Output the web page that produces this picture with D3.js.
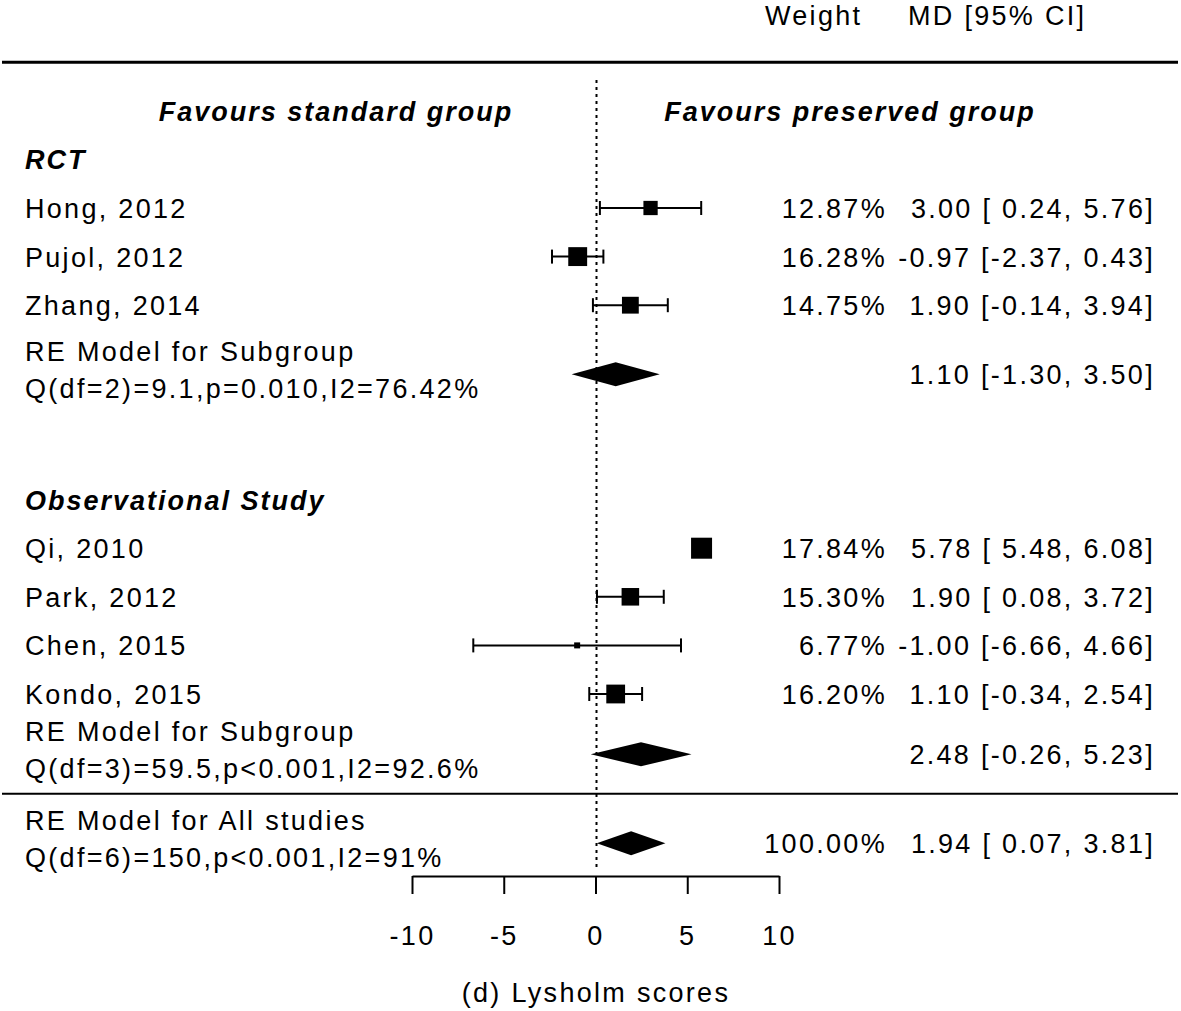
<!DOCTYPE html>
<html><head><meta charset="utf-8">
<script src="https://cdn.jsdelivr.net/npm/d3@7"></script>
<style>
html,body{margin:0;padding:0;background:#fff;}
text{font-family:"Liberation Sans",Arial,Helvetica,sans-serif;fill:#000;}
</style></head>
<body><svg id="c" width="1181" height="1011"></svg>
<script>
// ---- data ----
const studies   = ["Hong, 2012","Pujol, 2012","Zhang, 2014","Qi, 2010","Park, 2012","Chen, 2015","Kondo, 2015"];
const studyRows = [0,1,2,7,8,9,10];
const md        = [3.00,-0.97,1.90,5.78,1.90,-1.00,1.10];
const ciLow     = [0.24,-2.37,-0.14,5.48,0.08,-6.66,-0.34];
const ciHigh    = [5.76,0.43,3.94,6.08,3.72,4.66,2.54];
const weights   = [12.87,16.28,14.75,17.84,15.30,6.77,16.20];
const weightLabels = ["12.87%","16.28%","14.75%","17.84%","15.30%","6.77%","16.20%"];
const ciLabels  = ["3.00 [ 0.24, 5.76]","-0.97 [-2.37, 0.43]","1.90 [-0.14, 3.94]","5.78 [ 5.48, 6.08]","1.90 [ 0.08, 3.72]","-1.00 [-6.66, 4.66]","1.10 [-0.34, 2.54]"];

const poolNames   = ["RE Model for Subgroup","RE Model for Subgroup","RE Model for All studies"];
const poolStats   = ["Q(df=2)=9.1,p=0.010,I2=76.42%","Q(df=3)=59.5,p<0.001,I2=92.6%","Q(df=6)=150,p<0.001,I2=91%"];
const poolRows    = [3.42,11.24,13.07];
const poolEst     = [1.10,2.48,1.94];
const poolLow     = [-1.30,-0.26,0.07];
const poolHigh    = [3.50,5.23,3.81];
const poolWeight  = ["","","100.00%"];
const poolCI      = ["1.10 [-1.30, 3.50]","2.48 [-0.26, 5.23]","1.94 [ 0.07, 3.81]"];

const groupNames = ["RCT","Observational Study"];
const groupRows  = [-1,6];
const xTicks     = [-10,-5,0,5,10];
const favourLeft = "Favours standard group";
const favourRight= "Favours preserved group";
const xTitle     = "(d) Lysholm scores";

// ---- scales ----
const svg = d3.select("#c");
const x = d3.scaleLinear().domain([-10,10]).range([412,779]);
const y = d3.scaleLinear().domain([0,10]).range([208,694]);
const sz = d3.scaleLinear().domain([d3.min(weights),d3.max(weights)]).range([6,21]);
const FS = 27, LS = "2.3px", DY = 10;

function txt(t,xx,yy,anchor,bold){
  const e = svg.append("text").attr("x",xx).attr("y",yy).attr("font-size",FS)
    .attr("letter-spacing",LS).attr("text-anchor",anchor||"start").text(t);
  if(bold) e.attr("font-weight","bold").attr("font-style","italic").attr("letter-spacing","2px");
  return e;
}

// headers
txt("Weight",765,25);
txt("MD [95% CI]",908,25);
svg.append("line").attr("x1",2).attr("x2",1178).attr("y1",y(-3)).attr("y2",y(-3))
  .attr("stroke","#000").attr("stroke-width",3);
txt(favourLeft,336,y(-2)+DY,"middle",true);
txt(favourRight,850,y(-2)+DY,"middle",true);

// reference line
svg.append("line").attr("x1",x(0)+1).attr("x2",x(0)+1).attr("y1",80).attr("y2",870)
  .attr("stroke","#000").attr("stroke-width",2).attr("stroke-dasharray","3,4");

// group labels
groupNames.forEach((g,i)=>txt(g,25,y(groupRows[i])+DY,"start",true));

// studies
studies.forEach((s,i)=>{
  const yy = y(studyRows[i]);
  txt(s,25,yy+DY);
  txt(weightLabels[i],887,yy+DY,"end");
  txt(ciLabels[i],1155,yy+DY,"end");
  const g = svg.append("g");
  g.append("line").attr("x1",x(ciLow[i])).attr("x2",x(ciHigh[i])).attr("y1",yy).attr("y2",yy)
    .attr("stroke","#000").attr("stroke-width",2);
  [ciLow[i],ciHigh[i]].forEach(v=>g.append("line").attr("x1",x(v)).attr("x2",x(v))
    .attr("y1",yy-7).attr("y2",yy+7).attr("stroke","#000").attr("stroke-width",2));
  const s2 = sz(weights[i]);
  g.append("rect").attr("x",x(md[i])-s2/2).attr("y",yy-s2/2).attr("width",s2).attr("height",s2).attr("fill","#000");
});

// pooled
poolNames.forEach((n,i)=>{
  const yy = y(poolRows[i]);
  txt(n,25,yy-13);
  txt(poolStats[i],25,yy+24);
  if(poolWeight[i]) txt(poolWeight[i],887,yy+DY,"end");
  txt(poolCI[i],1155,yy+DY,"end");
  const h = 12;
  svg.append("polygon").attr("points",[[x(poolLow[i]),yy],[x(poolEst[i]),yy-h],[x(poolHigh[i]),yy],[x(poolEst[i]),yy+h]].map(p=>p.join(",")).join(" "))
    .attr("fill","#000");
});

// separator
svg.append("line").attr("x1",2).attr("x2",1178).attr("y1",y(12.05)).attr("y2",y(12.05))
  .attr("stroke","#000").attr("stroke-width",2);

// axis
const ax = svg.append("g").attr("transform","translate(0,876)")
  .call(d3.axisBottom(x).tickValues(xTicks).tickSize(18).tickSizeOuter(0).tickPadding(32).tickFormat(d=>String(d)));
ax.selectAll("path,line").attr("stroke","#000").attr("stroke-width",2);
ax.selectAll("text").attr("font-size",FS).attr("letter-spacing",LS).attr("fill","#000")
  .attr("font-family","'Liberation Sans',Arial,sans-serif");
txt(xTitle,596,1002,"middle");
</script></body></html>
